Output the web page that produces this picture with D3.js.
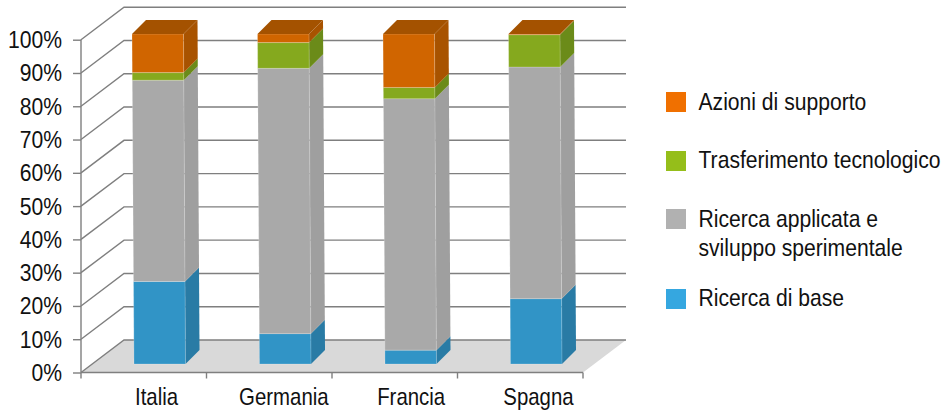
<!DOCTYPE html>
<html lang="en">
<head>
  <meta charset="UTF-8">
  <title>Ricerca per tipologia</title>
  <style>
    html, body { margin: 0; padding: 0; background: #fff; }
    svg { display: block; }
    text { font-family: "Liberation Sans", Arial, sans-serif; fill: #111; }
  </style>
</head>
<body>
  <svg id="svg" width="944" height="413"></svg>

  <script src="https://d3js.org/d3.v7.min.js"></script>
  <script>
    const countries = ['Italia', 'Germania', 'Francia', 'Spagna']
    const tickValues = [0, 10, 20, 30, 40, 50, 60, 70, 80, 90, 100]

    // stacked bottom to top, percent of the total per country
    const ricercaBase = [25, 9.2, 4.2, 19.8]
    const ricercaApplicata = [61, 80.4, 76.2, 70.2]
    const trasferimento = [2.3, 7.8, 3.4, 9.8]
    const azioni = [11.7, 2.6, 16.2, 0.2]

    const seriesKeys = ['base', 'applicata', 'trasferimento', 'azioni']
    const seriesValues = [ricercaBase, ricercaApplicata, trasferimento, azioni]
    const frontColors = ['#3194c6', '#a9a9a9', '#85a91e', '#d06500']
    const sideColors = ['#297ba5', '#9f9f9f', '#6b8b19', '#a85300']
    const legendColors = ['#35a7e0', '#b1b1b1', '#95be1a', '#f07000']
    const legendLabels = [
      ['Ricerca di base'],
      ['Ricerca applicata e', 'sviluppo sperimentale'],
      ['Trasferimento tecnologico'],
      ['Azioni di supporto']
    ]

    const rows = countries.map((c, i) => {
      const row = { country: c }
      seriesKeys.forEach((k, s) => { row[k] = seriesValues[s][i] })
      return row
    })

    const svg = d3.select('#svg')
    const gridColor = '#7f7f7f'
    const fontSize = 24
    const condense = 0.88  // the label face is narrower than Liberation Sans
    const wallDx = 43, wallDy = -32.5
    const barDepth = 14, barWidth = 51.5, barInset = 53

    const y = d3.scaleLinear().domain([0, 100]).range([372.5, 39.7])
    const x = d3.scaleBand().domain(countries).range([81, 583])
    const xLabel = d3.scalePoint().domain(countries).range([156, 538])
    // bars stand forward of the back wall, so they use their own vertical range
    const yBar = d3.scaleLinear().domain([0, 100]).range([364, 34])
    const lean = d3.scaleLinear().domain([0, 100]).range([0, -2])

    const pts = a => a.map(p => p.join(',')).join(' ')

    // floor
    const x0 = x.range()[0], x1 = x.range()[1]
    svg.append('polygon')
      .attr('points', pts([[x0, y(0)], [x1, y(0)], [x1 + wallDx, y(0) + wallDy], [x0 + wallDx, y(0) + wallDy]]))
      .attr('fill', '#d9d9d9')

    // gridlines run up the side wall and along the back wall
    svg.append('g').selectAll('polyline')
      .data(tickValues)
      .join('polyline')
      .attr('points', d => pts([[x0, y(d)], [x0 + wallDx, y(d) + wallDy], [x1 + wallDx, y(d) + wallDy]]))
      .attr('fill', 'none')
      .attr('stroke', gridColor)
      .attr('stroke-width', 1.4)

    // stacked bars
    const stacked = d3.stack().keys(seriesKeys)(rows)
    const barLeft = (d, v) => x(d.data.country) + barInset + lean(v)

    const groups = svg.append('g').selectAll('g')
      .data(stacked)
      .join('g')

    groups.selectAll('polygon.side')
      .data(d => d)
      .join('polygon')
      .attr('class', 'side')
      .attr('points', d => {
        const bx = barLeft(d, d[0]) + barWidth, tx = barLeft(d, d[1]) + barWidth
        return pts([[bx, yBar(d[0])], [tx, yBar(d[1])], [tx + barDepth, yBar(d[1]) - barDepth], [bx + barDepth, yBar(d[0]) - barDepth]])
      })
      .attr('fill', function () { return sideColors[stacked.indexOf(d3.select(this.parentNode).datum())] })

    groups.selectAll('polygon.front')
      .data(d => d)
      .join('polygon')
      .attr('class', 'front')
      .attr('points', d => {
        const bx = barLeft(d, d[0]), tx = barLeft(d, d[1])
        return pts([[bx, yBar(d[0])], [bx + barWidth, yBar(d[0])], [tx + barWidth, yBar(d[1])], [tx, yBar(d[1])]])
      })
      .attr('fill', function () { return frontColors[stacked.indexOf(d3.select(this.parentNode).datum())] })
      .attr('stroke', 'rgba(255,255,255,0.25)')
      .attr('stroke-width', 0.8)

    // cap of each bar, taken from the last series
    svg.append('g').selectAll('polygon')
      .data(stacked[stacked.length - 1])
      .join('polygon')
      .attr('points', d => {
        const tx = barLeft(d, d[1]), ty = yBar(d[1])
        return pts([[tx, ty], [tx + barWidth, ty], [tx + barWidth + barDepth, ty - barDepth], [tx + barDepth, ty - barDepth]])
      })
      .attr('fill', '#a45200')

    // axes
    const yAxis = svg.append('g')
      .attr('transform', `translate(${x0},0)`)
      .call(d3.axisLeft(y).tickValues(tickValues).tickSize(8).tickFormat(d => d + '%'))
    yAxis.selectAll('path, line').attr('stroke', gridColor).attr('stroke-width', 1.4)
    yAxis.select('.domain').attr('d', `M0,${y(0)}V${y(100)}`)
    yAxis.selectAll('text')
      .attr('font-size', fontSize)
      .attr('text-anchor', 'end')
      .attr('x', 0)
      .attr('dy', null)
      .attr('y', 8)
      .attr('transform', `translate(-19,0) scale(${condense},1)`)

    const xBorders = countries.map(c => x(c)).concat(x1)
    svg.append('line')
      .attr('x1', x0).attr('x2', x1)
      .attr('y1', y(0)).attr('y2', y(0))
      .attr('stroke', gridColor).attr('stroke-width', 1.4)
    svg.append('g').selectAll('line')
      .data(xBorders)
      .join('line')
      .attr('x1', d => d).attr('x2', d => d)
      .attr('y1', y(0)).attr('y2', y(0) + 6)
      .attr('stroke', gridColor).attr('stroke-width', 1.4)

    const xAxis = svg.append('g')
      .attr('transform', 'translate(0,405)')
      .call(d3.axisBottom(xLabel).tickSize(0))
    xAxis.select('.domain').remove()
    xAxis.selectAll('text')
      .attr('font-size', fontSize)
      .attr('text-anchor', 'middle')
      .attr('y', 0)
      .attr('dy', null)
      .attr('transform', 'scale(0.85,1)')

    // legend, listed top to bottom against the stacking order
    const legendSwatchY = [289, 209, 151, 92]
    const legendBaseY = [306, 227, 168, 110]
    const legend = svg.append('g').selectAll('g')
      .data(legendLabels)
      .join('g')
    legend.append('rect')
      .attr('x', 666).attr('y', (d, i) => legendSwatchY[i])
      .attr('width', 20).attr('height', 20)
      .attr('fill', (d, i) => legendColors[i])
    legend.each(function (lines, i) {
      d3.select(this).selectAll('text')
        .data(lines)
        .join('text')
        .attr('font-size', fontSize)
        .attr('transform', (d, j) => `translate(698.5,${legendBaseY[i] + j * 29}) scale(${condense},1)`)
        .text(d => d)
    })
  </script>
</body>
</html>
